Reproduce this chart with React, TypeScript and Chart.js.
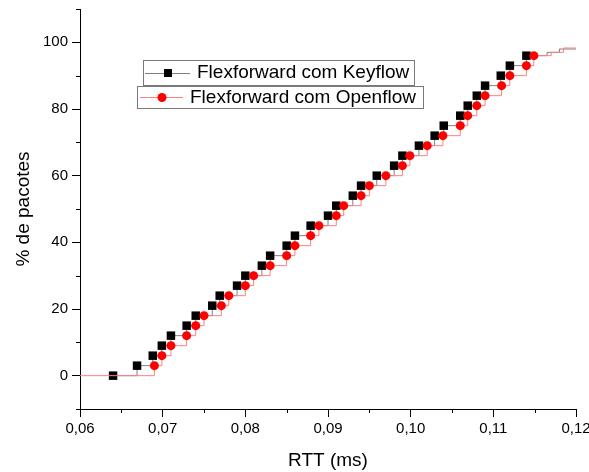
import React, { useEffect, useRef } from "react";
import { Chart, registerables } from "chart.js";

Chart.register(...registerables);

// Flexforward com Keyflow (black squares) — marked points
const keyflowPct = [0, 3, 6, 9, 12, 15, 18, 21, 24, 27, 30, 33, 36, 39, 42, 45, 48, 51, 54, 57, 60, 63, 66, 69, 72, 75, 78, 81, 84, 87, 90, 93, 96];
const keyflowRtt = [0.064, 0.0669, 0.0688, 0.0699, 0.071, 0.0729, 0.074, 0.076, 0.0769, 0.079, 0.08, 0.082, 0.083, 0.085, 0.086, 0.0879, 0.09, 0.091, 0.093, 0.094, 0.0959, 0.098, 0.099, 0.101, 0.1029, 0.104, 0.106, 0.1069, 0.108, 0.109, 0.1109, 0.112, 0.114];
// unmarked tail of the Keyflow curve
const keyflowTailRtt = [0.1165, 0.118, 0.12];
const keyflowTailPct = [97, 98, 98];

// Flexforward com Openflow (red circles) — unmarked start
const openflowStartRtt = [0.06];
const openflowStartPct = [0];
// marked points
const openflowPct = [3, 6, 9, 12, 15, 18, 21, 24, 27, 30, 33, 36, 39, 42, 45, 48, 51, 54, 57, 60, 63, 66, 69, 72, 75, 78, 81, 84, 87, 90, 93, 96];
const openflowRtt = [0.069, 0.0699, 0.071, 0.0729, 0.074, 0.075, 0.0771, 0.078, 0.08, 0.081, 0.083, 0.085, 0.086, 0.0879, 0.0889, 0.091, 0.0919, 0.094, 0.095, 0.097, 0.099, 0.0999, 0.102, 0.1039, 0.106, 0.1069, 0.108, 0.109, 0.111, 0.112, 0.114, 0.1149];
// unmarked tail
const openflowTailRtt = [0.117, 0.1185, 0.12];
const openflowTailPct = [97, 98.3, 98.3];

const xTicks = [0.06, 0.07, 0.08, 0.09, 0.1, 0.11, 0.12];
const xMinorTicks = [0.065, 0.075, 0.085, 0.095, 0.105, 0.115];
const yTicks = [0, 20, 40, 60, 80, 100];
const yMinorTicks = [-10, 10, 30, 50, 70, 90, 110];

const seriesNames = ["Flexforward com Keyflow", "Flexforward com Openflow"];

const FONT = '"Liberation Sans", Arial, Helvetica, sans-serif';

type Pt = { x: number; y: number; m: boolean };
function build(xs: number[], ys: number[], marked: boolean): Pt[] {
  return xs.map((x, i) => ({ x, y: ys[i], m: marked }));
}

const overlayPlugin = {
  id: "overlay",
  afterDraw(chart: any) {
    const ctx: CanvasRenderingContext2D = chart.ctx;
    const xs = chart.scales.x;
    const ys = chart.scales.y;
    const area = chart.chartArea;
    ctx.save();
    // minor ticks
    ctx.strokeStyle = "#000";
    ctx.lineWidth = 1;
    ctx.beginPath();
    for (const v of xMinorTicks) {
      const px = Math.round(xs.getPixelForValue(v)) + 0.5;
      ctx.moveTo(px, area.bottom);
      ctx.lineTo(px, area.bottom + 4);
    }
    for (const v of yMinorTicks) {
      const py = Math.round(ys.getPixelForValue(v)) + 0.5;
      ctx.moveTo(area.left, py);
      ctx.lineTo(area.left - 4, py);
    }
    ctx.stroke();

    // legend boxes
    ctx.font = "19px " + FONT;
    ctx.textBaseline = "middle";
    ctx.textAlign = "left";

    // box 1 (Keyflow)
    ctx.fillStyle = "#fff";
    ctx.fillRect(143, 60, 271, 25);
    ctx.strokeStyle = "#7a7a7a";
    ctx.strokeRect(143.5, 60.5, 271, 25);
    ctx.strokeStyle = "#808080";
    ctx.beginPath();
    ctx.moveTo(145, 73.5);
    ctx.lineTo(190, 73.5);
    ctx.stroke();
    ctx.fillStyle = "#000";
    ctx.fillRect(164, 69, 8, 8);
    ctx.fillText(seriesNames[0], 197, 73);

    // box 2 (Openflow)
    ctx.fillStyle = "#fff";
    ctx.fillRect(137, 86, 286, 22);
    ctx.strokeStyle = "#7a7a7a";
    ctx.strokeRect(137.5, 86.5, 286, 22);
    ctx.strokeStyle = "#ff8080";
    ctx.beginPath();
    ctx.moveTo(140, 97.5);
    ctx.lineTo(183, 97.5);
    ctx.stroke();
    ctx.fillStyle = "#ff0000";
    ctx.beginPath();
    ctx.arc(162, 97.5, 4.5, 0, Math.PI * 2);
    ctx.fill();
    ctx.fillStyle = "#000";
    ctx.fillText(seriesNames[1], 190, 98);
    ctx.restore();
  },
};

export default function App() {
  const ref = useRef<HTMLCanvasElement>(null);
  useEffect(() => {
    const canvas = ref.current;
    if (!canvas) return;
    Chart.defaults.font.family = FONT;
    Chart.defaults.color = "#000";

    const keyflowData = [
      ...build(keyflowRtt, keyflowPct, true),
      ...build(keyflowTailRtt, keyflowTailPct, false),
    ];
    const openflowData = [
      ...build(openflowStartRtt, openflowStartPct, false),
      ...build(openflowRtt, openflowPct, true),
      ...build(openflowTailRtt, openflowTailPct, false),
    ];

    const chart = new Chart(canvas, {
      type: "scatter",
      data: {
        datasets: [
          {
            label: seriesNames[1],
            data: openflowData as any,
            showLine: true,
            stepped: true,
            borderColor: "#ff8080",
            borderWidth: 1,
            backgroundColor: "#ff0000",
            pointStyle: "circle",
            pointRadius: (c: any) => (c.raw && c.raw.m ? 4.5 : 0),
            pointBackgroundColor: "#ff0000",
            pointBorderWidth: 0,
            order: 0,
          },
          {
            label: seriesNames[0],
            data: keyflowData as any,
            showLine: true,
            stepped: true,
            borderColor: "#808080",
            borderWidth: 1,
            backgroundColor: "#000",
            pointStyle: "rect",
            pointRadius: (c: any) => (c.raw && c.raw.m ? 6 : 0),
            pointBackgroundColor: "#000",
            pointBorderWidth: 0,
            order: 1,
          },
        ],
      },
      options: {
        responsive: false,
        animation: false,
        devicePixelRatio: 1,
        layout: { padding: { top: 9, right: 13, left: 0, bottom: 0 } },
        plugins: {
          legend: { display: false },
          tooltip: { enabled: false },
        },
        events: [],
        scales: {
          x: {
            type: "linear",
            min: 0.06,
            max: 0.12,
            afterBuildTicks: (s: any) => {
              s.ticks = xTicks.map((v) => ({ value: v }));
            },
            afterFit: (s: any) => {
              s.height = 63;
              s.paddingLeft = 0;
              s.paddingRight = 0;
            },
            ticks: {
              callback: (v: any) => Number(v).toFixed(2).replace(".", ","),
              font: { size: 15 },
              color: "#000",
              padding: 3,
              maxRotation: 0,
              autoSkip: false,
            },
            grid: {
              drawOnChartArea: false,
              tickLength: 8,
              tickColor: "#000",
              tickWidth: 1,
            },
            border: { color: "#000", width: 1 },
            title: {
              display: true,
              text: "RTT (ms)",
              font: { size: 19 },
              color: "#000",
              padding: { top: 0, bottom: 0 },
            },
          },
          y: {
            type: "linear",
            min: -10,
            max: 110,
            afterBuildTicks: (s: any) => {
              s.ticks = yTicks.map((v) => ({ value: v }));
            },
            afterFit: (s: any) => {
              s.width = 80;
              s.paddingTop = 0;
              s.paddingBottom = 0;
            },
            ticks: {
              callback: (v: any) => String(v),
              font: { size: 15 },
              color: "#000",
              padding: 4,
              autoSkip: false,
            },
            grid: {
              drawOnChartArea: false,
              tickLength: 8,
              tickColor: "#000",
              tickWidth: 1,
            },
            border: { color: "#000", width: 1 },
            title: {
              display: true,
              text: "% de pacotes",
              font: { size: 19 },
              color: "#000",
              padding: { top: 12, bottom: 0 },
            },
          },
        },
      } as any,
      plugins: [overlayPlugin],
    });
    return () => chart.destroy();
  }, []);

  return (
    <div style={{ position: "absolute", left: 0, top: 0, width: 589, height: 472, background: "#fff" }}>
      <canvas ref={ref} width={589} height={472} style={{ display: "block" }} />
    </div>
  );
}
